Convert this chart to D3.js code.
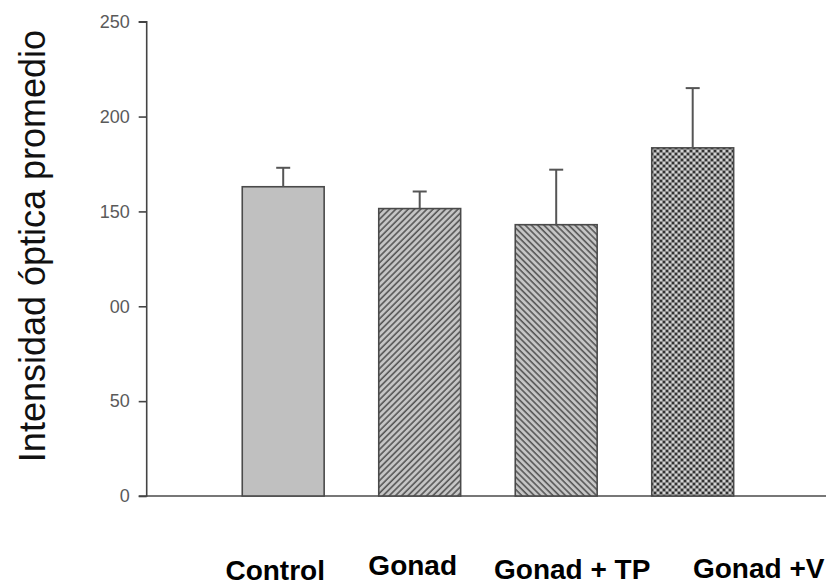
<!DOCTYPE html>
<html>
<head>
<meta charset="utf-8">
<script src="https://cdn.jsdelivr.net/npm/d3@7"></script>
<style>
  html, body { margin: 0; padding: 0; background: #ffffff; }
  svg { display: block; }
</style>
</head>
<body>
<svg id="chart" width="826" height="585"></svg>
<script>
// Mean optical intensity per group, with error (upper whisker only)
const categories = ["Control", "Gonad", "Gonad + TP", "Gonad +V"];
const means = [163, 151.5, 143, 183.5];
const errors = [10, 9, 29, 31.5];
const tickValues = [0, 50, 100, 150, 200, 250];
const tickLabels = ["0", "50", "00", "150", "200", "250"];
const fills = ["solid", "hatchUp", "hatchDown", "mesh"];

// Label nudges relative to each band centre (x, baseline y)
const labelDx = [-8, -7, 16, 66];
const labelY = [580, 575, 579, 578];

const svg = d3.select("#chart");
const axisX = 146.7;
const baseY = 496;

const y = d3.scaleLinear().domain([0, 250]).range([baseY, 21.7]);
const x = d3.scaleBand()
  .domain(categories)
  .range([axisX, axisX + 136.5 * 5])
  .paddingInner(0.4)
  .paddingOuter(0.7);

// Fill patterns
const defs = svg.append("defs");

const up = defs.append("pattern")
  .attr("id", "hatchUp").attr("patternUnits", "userSpaceOnUse")
  .attr("width", 4.4).attr("height", 10)
  .attr("patternTransform", "rotate(45)");
up.append("rect").attr("width", 4.4).attr("height", 10).attr("fill", "#c6c6c6");
up.append("line").attr("x1", 1).attr("x2", 1).attr("y1", 0).attr("y2", 10)
  .attr("stroke", "#555").attr("stroke-width", 1.6);

const down = defs.append("pattern")
  .attr("id", "hatchDown").attr("patternUnits", "userSpaceOnUse")
  .attr("width", 4.4).attr("height", 10)
  .attr("patternTransform", "rotate(-45)");
down.append("rect").attr("width", 4.4).attr("height", 10).attr("fill", "#c6c6c6");
down.append("line").attr("x1", 1).attr("x2", 1).attr("y1", 0).attr("y2", 10)
  .attr("stroke", "#555").attr("stroke-width", 1.6);

const mesh = defs.append("pattern")
  .attr("id", "mesh").attr("patternUnits", "userSpaceOnUse")
  .attr("width", 6).attr("height", 6);
mesh.append("rect").attr("width", 6).attr("height", 6).attr("fill", "#8c8c8c");
mesh.append("rect").attr("x", 0).attr("y", 0).attr("width", 2).attr("height", 2).attr("fill", "#333");
mesh.append("rect").attr("x", 3).attr("y", 3).attr("width", 2).attr("height", 2).attr("fill", "#333");
mesh.append("rect").attr("x", 3).attr("y", 0).attr("width", 2).attr("height", 2).attr("fill", "#d2d2d2");
mesh.append("rect").attr("x", 0).attr("y", 3).attr("width", 2).attr("height", 2).attr("fill", "#d2d2d2");

const fillFor = f => f === "solid" ? "#c0c0c0" : `url(#${f})`;

// Baseline across the plot
svg.append("line")
  .attr("x1", axisX).attr("x2", 826)
  .attr("y1", baseY).attr("y2", baseY)
  .attr("stroke", "#777").attr("stroke-width", 2);

// Bars
const bars = categories.map((c, i) => ({ c, m: means[i], e: errors[i], f: fills[i], i }));

svg.append("g").selectAll("rect").data(bars).join("rect")
  .attr("x", d => x(d.c))
  .attr("y", d => y(d.m))
  .attr("width", x.bandwidth())
  .attr("height", d => y(0) - y(d.m))
  .attr("fill", d => fillFor(d.f))
  .attr("stroke", "#4a4a4a")
  .attr("stroke-width", 1.6);

// Error bars (upper only)
const eg = svg.append("g").attr("stroke", "#555").attr("stroke-width", 2);
eg.selectAll("line.v").data(bars).join("line").attr("class", "v")
  .attr("x1", d => x(d.c) + x.bandwidth() / 2)
  .attr("x2", d => x(d.c) + x.bandwidth() / 2)
  .attr("y1", d => y(d.m))
  .attr("y2", d => y(d.m + d.e));
eg.selectAll("line.cap").data(bars).join("line").attr("class", "cap")
  .attr("x1", d => x(d.c) + x.bandwidth() / 2 - 7)
  .attr("x2", d => x(d.c) + x.bandwidth() / 2 + 7)
  .attr("y1", d => y(d.m + d.e))
  .attr("y2", d => y(d.m + d.e));

// Y axis
const yAxis = d3.axisLeft(y)
  .tickValues(tickValues)
  .tickSize(8)
  .tickPadding(9)
  .tickFormat((d, i) => tickLabels[i]);

const ya = svg.append("g")
  .attr("transform", `translate(${axisX},0)`)
  .call(yAxis);
ya.select(".domain").attr("stroke", "#444").attr("stroke-width", 1.6)
  .attr("d", `M-8,${y(250)}H0V${y(0)}H-8`);
ya.selectAll(".tick line").attr("stroke", "#444").attr("stroke-width", 1.6);
ya.selectAll(".tick text")
  .attr("fill", "#5a5a5a")
  .style("font-family", "'Liberation Sans', Arial, sans-serif")
  .style("font-size", "18px");

// Y axis title
svg.append("text")
  .attr("transform", `translate(45,246) rotate(-90)`)
  .attr("text-anchor", "middle")
  .style("font-family", "'Liberation Sans', Arial, sans-serif")
  .style("font-size", "36px")
  .attr("fill", "#111")
  .text("Intensidad óptica promedio");

// Category labels
svg.append("g").selectAll("text").data(bars).join("text")
  .attr("x", d => x(d.c) + x.bandwidth() / 2 + labelDx[d.i])
  .attr("y", d => labelY[d.i])
  .attr("text-anchor", "middle")
  .style("font-family", "'Liberation Sans', Arial, sans-serif")
  .style("font-weight", "bold")
  .style("font-size", "28px")
  .attr("fill", "#000")
  .text(d => d.c);
</script>
</body>
</html>
